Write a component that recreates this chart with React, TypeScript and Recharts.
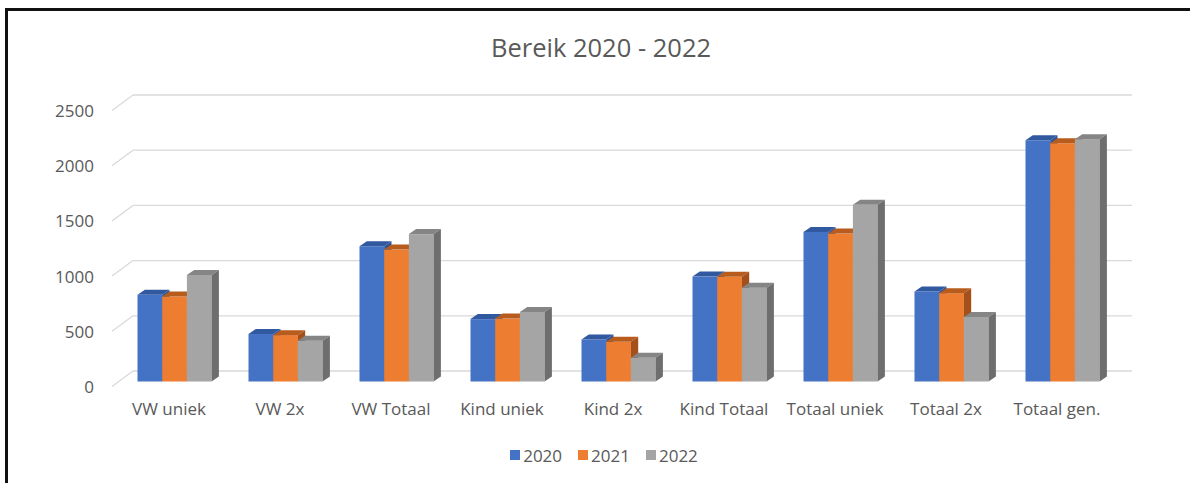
import { BarChart, Bar, XAxis, YAxis, CartesianGrid, Legend } from 'recharts';

const categories = ['VW uniek', 'VW 2x', 'VW Totaal', 'Kind uniek', 'Kind 2x', 'Kind Totaal', 'Totaal uniek', 'Totaal 2x', 'Totaal gen.'];
const values2020 = [785, 430, 1225, 565, 380, 950, 1355, 815, 2185];
const values2021 = [770, 420, 1195, 570, 360, 948, 1340, 800, 2158];
const values2022 = [965, 370, 1335, 630, 215, 850, 1600, 585, 2195];
const yTicks = [0, 500, 1000, 1500, 2000, 2500];

const data = categories.map((name, i) => ({
  name,
  '2020': values2020[i],
  '2021': values2021[i],
  '2022': values2022[i],
}));

const series = [
  { key: '2020', front: '#4472C4', top: '#30599F', side: '#2F5597' },
  { key: '2021', front: '#ED7D31', top: '#B85C1E', side: '#A5501A' },
  { key: '2022', front: '#A5A5A5', top: '#858585', side: '#6E6E6E' },
];

// depth of the 3D look
const BAR_DX = 7.3;
const BAR_DY = 5;
const FRONT_DX = -7.5;
const FRONT_DY = 5;
const BACK_DX = 13.5;
const BACK_DY = -10.5;

const FONT = '"Open Sans", "Noto Sans", sans-serif';
const TEXT = '#595959';

function makeBox(top: string, side: string) {
  return (props: any) => {
    const { x, y, width, height, fill } = props;
    if (height == null || width == null) return null;
    const r = x + width;
    const b = y + height;
    return (
      <g>
        <rect x={x} y={y} width={width} height={height} fill={fill} />
        <polygon
          points={`${x},${y} ${x + BAR_DX},${y - BAR_DY} ${r + BAR_DX},${y - BAR_DY} ${r},${y}`}
          fill={top}
        />
        <polygon
          points={`${r},${y} ${r + BAR_DX},${y - BAR_DY} ${r + BAR_DX},${b - BAR_DY} ${r},${b}`}
          fill={side}
        />
      </g>
    );
  };
}

function gridLine(props: any) {
  const { x1, x2, y1, index } = props;
  return (
    <g key={`grid-${index}`}>
      <line
        x1={x1 + FRONT_DX}
        y1={y1 + FRONT_DY}
        x2={x1 + BACK_DX}
        y2={y1 + BACK_DY}
        stroke="#D9D9D9"
        strokeWidth={1.3}
      />
      <line
        x1={x1 + BACK_DX}
        y1={y1 + BACK_DY}
        x2={x2 + BACK_DX}
        y2={y1 + BACK_DY}
        stroke="#D9D9D9"
        strokeWidth={1.3}
      />
    </g>
  );
}

function YTick(props: any) {
  const { y, payload } = props;
  return (
    <text x={94} y={y + FRONT_DY} textAnchor="end" dominantBaseline="central" fill={TEXT} fontSize={17} fontFamily={FONT}>
      {payload.value}
    </text>
  );
}

function XTick(props: any) {
  const { x, y, payload } = props;
  return (
    <text x={x - 6} y={y + 19} textAnchor="middle" dominantBaseline="central" fill={TEXT} fontSize={17} fontFamily={FONT}>
      {payload.value}
    </text>
  );
}

function LegendContent(props: any) {
  const { payload } = props;
  return (
    <div style={{ display: 'flex', justifyContent: 'center', alignItems: 'center', height: 30, gap: 16 }}>
      {(payload || []).map((item: any) => (
        <div key={item.value} style={{ display: 'flex', alignItems: 'center' }}>
          <span style={{ width: 10, height: 10, background: item.color, display: 'inline-block', marginRight: 3 }} />
          <span style={{ fontFamily: FONT, fontSize: 17, color: TEXT }}>{item.value}</span>
        </div>
      ))}
    </div>
  );
}

export default function App() {
  return (
    <div style={{ position: 'relative', width: 1190, height: 483, overflow: 'hidden', background: '#fff' }}>
      <style>{`body { margin: 0; }`}</style>
      <div
        style={{
          position: 'absolute',
          left: 5,
          top: 8,
          width: 1400,
          height: 700,
          borderTop: '3px solid #111',
          borderLeft: '3px solid #111',
        }}
      />
      <div
        style={{
          position: 'absolute',
          top: 30,
          left: 0,
          width: 1202,
          textAlign: 'center',
          fontFamily: FONT,
          fontSize: 25.5,
          lineHeight: '34px',
          color: TEXT,
        }}
      >
        Bereik 2020 - 2022
      </div>
      <div style={{ position: 'absolute', left: 0, top: 0 }}>
        <BarChart
          width={1190}
          height={483}
          data={data}
          margin={{ top: 105.5, right: 71.5, bottom: 13, left: 0 }}
          barGap={0}
          barSize={24.7}
        >
          <CartesianGrid vertical={false} horizontal={gridLine} />
          <XAxis dataKey="name" axisLine={false} tickLine={false} height={58.5} tick={<XTick />} interval={0} />
          <YAxis domain={[0, 2500]} ticks={yTicks} axisLine={false} tickLine={false} width={119.5} tick={<YTick />} />
          <Legend
            verticalAlign="bottom"
            height={30}
            content={<LegendContent />}
            wrapperStyle={{ left: 14, width: 1180 }}
          />
          {series.map((s) => (
            <Bar
              key={s.key}
              dataKey={s.key}
              fill={s.front}
              isAnimationActive={false}
              shape={makeBox(s.top, s.side)}
            />
          ))}
        </BarChart>
      </div>
    </div>
  );
}
